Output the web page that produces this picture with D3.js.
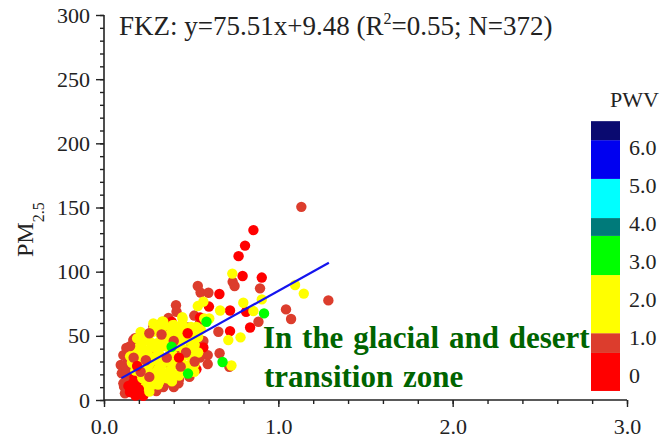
<!DOCTYPE html>
<html>
<head>
<meta charset="utf-8">
<script src="https://cdn.jsdelivr.net/npm/d3@7"></script>
<style>
  html, body { margin: 0; padding: 0; background: #ffffff; }
  svg text { font-family: "Liberation Serif", "Times New Roman", serif; fill: #222; }
</style>
</head>
<body>
<svg id="chart" width="662" height="438"></svg>
<script>
// ---- axis ticks ----
const xTicksMajor = [0, 1, 2, 3];
const xTickLabels = ["0.0", "1.0", "2.0", "3.0"];
const yTicksMajor = [0, 50, 100, 150, 200, 250, 300];

// ---- PWV colour bar ----
const pwvTicks = [0, 1, 2, 3, 4, 5, 6];
const pwvTickLabels = ["0", "1.0", "2.0", "3.0", "4.0", "5.0", "6.0"];
const pwvBreaks = [-0.42, 0.58, 1.10, 2.63, 3.66, 4.13, 5.16, 6.18, 6.68];
const pwvColors = ["#ff0000", "#dc3d2d", "#ffff00", "#00ff00", "#007a7a", "#00ffff", "#0000f0", "#0a0a70"];

// ---- linear fit ----
const fitSlope = 75.51;
const fitIntercept = 9.48;
const fitR2 = 0.55;
const sampleCount = 372;
const fitRange = [0.1, 1.29];

// ---- samples: [AOD, PM2.5], grouped by PWV level ----
const pwvLow = 0.3;        // PWV < 0.6
const pwvLowPts = [
  [0.857,132.4],[0.809,120.3],[0.772,112.1],[0.795,96.6],[0.905,95.4],[0.662,82.6],
  [0.602,72.8],[0.723,69.7],[0.815,68.8],[0.838,56.5],[0.723,53.7],[0.570,41.0],
  [0.551,64.4],[0.388,61.0],[0.297,58.2],
  [0.165,9.1],[0.207,5.2],[0.188,6.5],[0.149,6.2],[0.235,7.8],[0.166,13.2],
  [0.180,3.5],[0.210,10.5],[0.195,14.5],[0.140,11.0],[0.225,3.2],[0.175,17.5],
  [0.27,35],[0.34,45],[0.31,20],[0.38,28],[0.53,24]
];
// low-PWV samples lying over the dense cloud
const pwvLowTopPts = [
  [0.19,26.5],[0.43,33],[0.48,52],[0.16,11.5],[0.20,8.5]
];

const pwvMid = 0.85;       // 0.6 - 1.1
const pwvMidPts = [
  [1.132,150.5],[0.738,92.1],[0.749,88.8],[0.895,87.0],[1.287,77.6],[0.538,88.8],
  [0.554,83.7],[0.599,83.6],[1.044,70.6],[1.073,63.1],[0.886,61.0],[0.656,53.2],
  [0.663,36.4],[0.719,25.9],[0.595,35.0],[0.595,28.0],[0.413,73.8],[0.416,68.8],
  [0.518,65.8],[0.551,60.5],[0.461,23.9],[0.430,16.0],[0.427,13.0],
  [0.096,27.3],[0.102,20.8],[0.115,10.4],[0.120,5.2],[0.178,48.1],[0.293,57.6],
  [0.225,50.6],[0.168,46.7],[0.111,35.0],[0.120,27.3],[0.283,57.1],[0.480,56.6],
  [0.379,53.2],[0.130,7.8],[0.111,13.0],[0.13,17],[0.14,31],[0.155,24],[0.128,40.5],
  [0.34,10],[0.37,14],[0.30,7],[0.37,64],
  [0.30,26],[0.41,39],[0.45,48],[0.33,12],[0.38,18],[0.29,42],[0.50,44],[0.40,10],
  [0.28,8],[0.36,57],[0.23,35],[0.57,46],[0.55,33],[0.19,45],[0.42,55],[0.49,18],
  [0.13,22],[0.27,27]
];
// mid-PWV samples lying over the dense cloud
const pwvMidTopPts = [
  [0.24,31],[0.36,33],[0.26,18],[0.21,22],[0.47,37],[0.33,51],[0.17,33],[0.44,26],
  [0.52,30],[0.15,42],[0.26,52],[0.40,46]
];

const pwvHigh = 1.8;       // 1.1 - 2.6
const pwvHighPts = [
  [0.736,98.5],[1.096,89.6],[1.146,82.9],[0.799,75.8],[0.905,78.4],[0.666,69.7],
  [0.857,69.3],[0.570,76.6],[0.538,73.2],[0.604,63.5],[0.575,63.6],[0.783,48.8],
  [0.713,46.7],[0.731,26.9],[0.451,63.1],[0.499,56.9],[0.509,29.8],[0.518,22.0],
  [0.260,6.5],[0.340,61.0],[0.283,59.7],[0.344,57.6],[0.402,58.4],[0.426,55.1],
  [0.334,61.3],[0.392,58.2],[0.277,53.0],[0.449,64.6],[0.54,49],[0.555,55],
  [0.30,56],[0.33,59],[0.41,56],[0.45,59],[0.49,55],[0.53,57],
  [0.21,53],[0.25,49],[0.28,54],[0.32,52],[0.36,50],[0.39,54],[0.44,51],
  [0.47,53],[0.51,50],
  [0.19,48],[0.22,45],[0.26,46],[0.30,44],[0.33,48],[0.37,45],[0.40,49],
  [0.44,45],[0.48,47],[0.52,43],
  [0.17,39],[0.20,41],[0.23,39],[0.27,41],[0.31,38],[0.34,42],[0.38,39],
  [0.42,42],[0.46,39],[0.50,40],[0.54,37],
  [0.15,34],[0.18,36],[0.21,33],[0.25,36],[0.28,33],[0.32,35],[0.35,31],[0.39,36],
  [0.43,33],[0.47,35],[0.51,34],
  [0.16,29],[0.19,27],[0.22,30],[0.26,28],[0.29,31],[0.33,27],[0.36,30],[0.40,28],
  [0.44,31],[0.48,27],[0.52,28],
  [0.18,23],[0.21,21],[0.24,24],[0.27,21],[0.31,24],[0.34,21],[0.38,23],[0.41,20],
  [0.45,23],
  [0.22,17],[0.25,15],[0.29,18],[0.32,15],[0.36,17],[0.39,14.5],[0.43,19],
  [0.24,11],[0.28,12],[0.31,12]
];

const pwvWet = 3.1;        // 2.6 - 3.7
const pwvWetPts = [
  [0.918,67.5],[0.680,29.6],[0.482,20.6],[0.588,61.0],[0.388,41.5]
];

// drawing order, bottom to top
const groups = [
  { pwv: pwvMid, pts: pwvMidPts },
  { pwv: pwvLow, pts: pwvLowPts },
  { pwv: pwvHigh, pts: pwvHighPts },
  { pwv: pwvMid, pts: pwvMidTopPts },
  { pwv: pwvLow, pts: pwvLowTopPts },
  { pwv: pwvWet, pts: pwvWetPts }
];

// ---- drawing ----
const svg = d3.select("#chart");
const x = d3.scaleLinear().domain([0, 3]).range([104, 627]);
const y = d3.scaleLinear().domain([0, 300]).range([400, 15]);
const pwvColor = d3.scaleThreshold().domain(pwvBreaks.slice(1, -1)).range(pwvColors);

const axisColor = "#222";

// minor ticks
svg.append("g")
  .attr("transform", "translate(0,400)")
  .call(d3.axisBottom(x).tickValues(d3.range(0, 3.001, 0.2)).tickSize(4).tickFormat(""))
  .call(g => g.select(".domain").remove());
svg.append("g")
  .attr("transform", "translate(104,0)")
  .call(d3.axisLeft(y).tickValues(d3.range(0, 300.1, 10)).tickSize(4).tickFormat(""))
  .call(g => g.select(".domain").remove());

// major ticks + labels
svg.append("g")
  .attr("transform", "translate(0,400)")
  .call(d3.axisBottom(x).tickValues(xTicksMajor).tickSize(7).tickPadding(11)
    .tickFormat((d, i) => xTickLabels[i]))
  .call(g => g.select(".domain").attr("d", `M${x(0)},0H${x(3)}`));
svg.append("g")
  .attr("transform", "translate(104,0)")
  .call(d3.axisLeft(y).tickValues(yTicksMajor).tickSize(8).tickPadding(6))
  .call(g => g.select(".domain").attr("d", `M0,${y(0)}V${y(300)}`));

svg.selectAll(".tick line").attr("stroke", axisColor).attr("stroke-width", 1.4);
svg.selectAll(".domain").attr("stroke", axisColor).attr("stroke-width", 1.6);
svg.selectAll("g").attr("font-family", null);
svg.selectAll(".tick text")
  .style("font-family", '"Liberation Serif","Times New Roman",serif')
  .style("font-size", "22px").attr("fill", "#222");

// scatter points
const plot = svg.append("g");
groups.forEach(grp => {
  plot.append("g").selectAll("circle")
    .data(grp.pts)
    .join("circle")
    .attr("cx", d => x(d[0]))
    .attr("cy", d => y(d[1]))
    .attr("r", 5.2)
    .attr("fill", pwvColor(grp.pwv));
});

// fitted line
const fitLine = d3.line().x(d => x(d)).y(d => y(fitSlope * d + fitIntercept));
svg.append("path")
  .datum(fitRange)
  .attr("d", fitLine)
  .attr("fill", "none")
  .attr("stroke", "#1414ee")
  .attr("stroke-width", 2.2);

// equation title
const title = svg.append("text")
  .attr("x", 119).attr("y", 35)
  .style("font-size", "27px");
title.append("tspan").text(`FKZ: y=${fitSlope.toFixed(2)}x+${fitIntercept.toFixed(2)} (R`);
title.append("tspan").attr("dy", -11).style("font-size", "16px").text("2");
title.append("tspan").attr("dy", 11).text(`=${fitR2.toFixed(2)}; N=${sampleCount})`);

// y axis label
const yLabel = svg.append("text")
  .attr("transform", "translate(33,257) rotate(-90)")
  .style("font-size", "24px");
yLabel.append("tspan").text("PM");
yLabel.append("tspan").attr("dy", 11).style("font-size", "16px").text("2.5");

// region annotation
const note = svg.append("text")
  .style("font-size", "31px").style("font-weight", "bold")
  .style("fill", "#006400")
  .attr("word-spacing", "2");
note.append("tspan").attr("x", 263).attr("y", 348).text("In the glacial and desert");
note.append("tspan").attr("x", 264).attr("y", 387).text("transition  zone");

// colour bar
const legendY = d3.scaleLinear().domain([0, 6]).range([375, 147]);
const legend = svg.append("g");
legend.selectAll("rect")
  .data(pwvColors)
  .join("rect")
  .attr("x", 591)
  .attr("width", 29)
  .attr("y", (d, i) => legendY(pwvBreaks[i + 1]))
  .attr("height", (d, i) => legendY(pwvBreaks[i]) - legendY(pwvBreaks[i + 1]))
  .attr("fill", d => d);
legend.selectAll("text.lbl")
  .data(pwvTicks)
  .join("text")
  .attr("class", "lbl")
  .attr("x", 629)
  .attr("y", d => legendY(d))
  .attr("dy", "0.36em")
  .style("font-size", "22px")
  .text((d, i) => pwvTickLabels[i]);
legend.append("text")
  .attr("x", 610).attr("y", 107)
  .style("font-size", "22px")
  .text("PWV");
</script>
</body>
</html>
